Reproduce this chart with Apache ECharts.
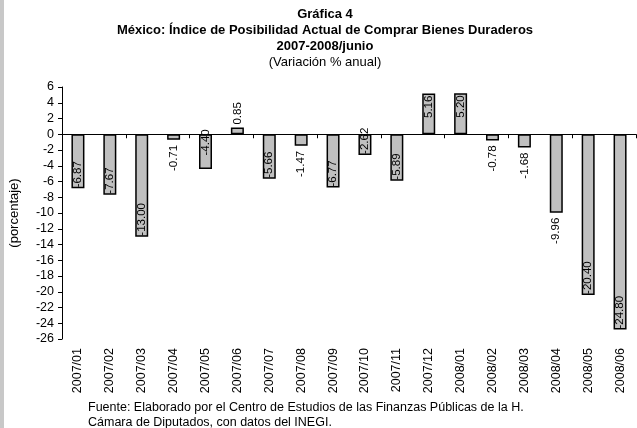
<!DOCTYPE html>
<html>
<head>
<meta charset="utf-8">
<script src="https://cdn.jsdelivr.net/npm/echarts@6/dist/echarts.min.js"></script>
<style>
  html, body { margin: 0; padding: 0; background: #fff; }
  #main { width: 637px; height: 428px; }
</style>
</head>
<body>
<div id="main"></div>
<script>
// categorias (mes)
var categorias = ['2007/01','2007/02','2007/03','2007/04','2007/05','2007/06','2007/07','2007/08','2007/09',
                  '2007/10','2007/11','2007/12','2008/01','2008/02','2008/03','2008/04','2008/05','2008/06'];
// variacion % anual
var valores = [-6.87, -7.67, -13.00, -0.71, -4.40, 0.85, -5.66, -1.47, -6.77,
               -2.62, -5.89, 5.16, 5.20, -0.78, -1.68, -9.96, -20.40, -24.80];
// donde va la etiqueta de cada barra: 'fin' = dentro al extremo, 'fuera' = fuera, 'base' = junto al cero
var etiquetas = ['fin','fin','fin','fuera','base','fuera','fin','fuera','fin',
                 'fin','fin','fin','fin','fuera','fuera','fuera','fin','fin'];

var fuente = 'Liberation Sans, Arial, sans-serif';

function etiqueta(v, tipo) {
    if (v >= 0) {
        if (tipo == 'fuera') return { position: 'top', align: 'left', distance: 3 };
        return { position: 'insideTop', align: 'right', distance: 2 };
    }
    if (tipo == 'fuera') return { position: 'bottom', align: 'right', distance: 5 };
    if (tipo == 'base') return { position: 'insideTop', align: 'right', distance: -5 };
    return { position: 'insideBottom', align: 'left', distance: 1 };
}

var datos = valores.map(function (v, i) {
    var e = etiqueta(v, etiquetas[i]);
    return {
        value: v,
        label: { position: e.position, align: e.align, distance: e.distance }
    };
});

var myChart = echarts.init(document.getElementById('main'), null, { renderer: 'canvas' });
var option = {
    backgroundColor: '#fff',
    animation: false,
    textStyle: { fontFamily: fuente },
    graphic: [
        { type: 'rect', shape: { x: 0, y: 0, width: 4, height: 428 }, style: { fill: '#c8c8c8' } },
        { type: 'text', left: 88, top: 401, style: { text: 'Fuente: Elaborado por el Centro de Estudios de las Finanzas Públicas de la H.', font: '12.5px ' + fuente, fill: '#000' } },
        { type: 'text', left: 88, top: 416, style: { text: 'Cámara de Diputados, con datos del INEGI.', font: '12.5px ' + fuente, fill: '#000' } }
    ],
    title: [
        { text: 'Gráfica 4', left: 320, top: 3, textAlign: 'center', textStyle: { fontSize: 13, fontWeight: 'bold', color: '#000', fontFamily: fuente } },
        { text: 'México: Índice de Posibilidad Actual de Comprar Bienes Duraderos', left: 320, top: 19, textAlign: 'center', textStyle: { fontSize: 13, fontWeight: 'bold', color: '#000', fontFamily: fuente } },
        { text: '2007-2008/junio', left: 320, top: 35, textAlign: 'center', textStyle: { fontSize: 13, fontWeight: 'bold', color: '#000', fontFamily: fuente } },
        { text: '(Variación % anual)', left: 320, top: 51, textAlign: 'center', textStyle: { fontSize: 13, fontWeight: 'normal', color: '#000', fontFamily: fuente } }
    ],
    grid: { left: 58, right: 1, top: 87, bottom: 89, containLabel: false },
    xAxis: [
        {
            type: 'category',
            data: categorias,
            position: 'bottom',
            axisLine: { onZero: true, lineStyle: { color: '#000', width: 1 } },
            axisTick: { show: true, length: 4, lineStyle: { color: '#000' } },
            axisLabel: { show: false },
            splitLine: { show: false }
        },
        {
            type: 'category',
            data: categorias,
            position: 'bottom',
            axisLine: { show: false, onZero: false },
            axisTick: { show: false },
            axisLabel: { rotate: 90, margin: 9, fontSize: 12.5, color: '#000', fontFamily: fuente },
            splitLine: { show: false }
        }
    ],
    yAxis: {
        type: 'value',
        min: -26,
        max: 6,
        interval: 2,
        name: '(porcentaje)',
        nameLocation: 'middle',
        nameGap: 41,
        nameTextStyle: { fontSize: 13, color: '#000', fontFamily: fuente },
        axisLine: { show: true, lineStyle: { color: '#000', width: 1 } },
        axisTick: { show: true, length: 4, lineStyle: { color: '#000' } },
        axisLabel: { fontSize: 12.5, color: '#000', margin: 8, fontFamily: fuente },
        splitLine: { show: false }
    },
    series: [
        {
            type: 'bar',
            xAxisIndex: 0,
            barWidth: 13,
            data: datos,
            itemStyle: { color: '#c0c0c0', borderColor: '#000', borderWidth: 1.5 },
            label: {
                show: true,
                rotate: 90,
                verticalAlign: 'middle',
                fontSize: 11.5,
                color: '#000',
                fontFamily: fuente,
                formatter: function (p) { return p.value.toFixed(2); }
            }
        }
    ]
};
myChart.setOption(option);
</script>
</body>
</html>
